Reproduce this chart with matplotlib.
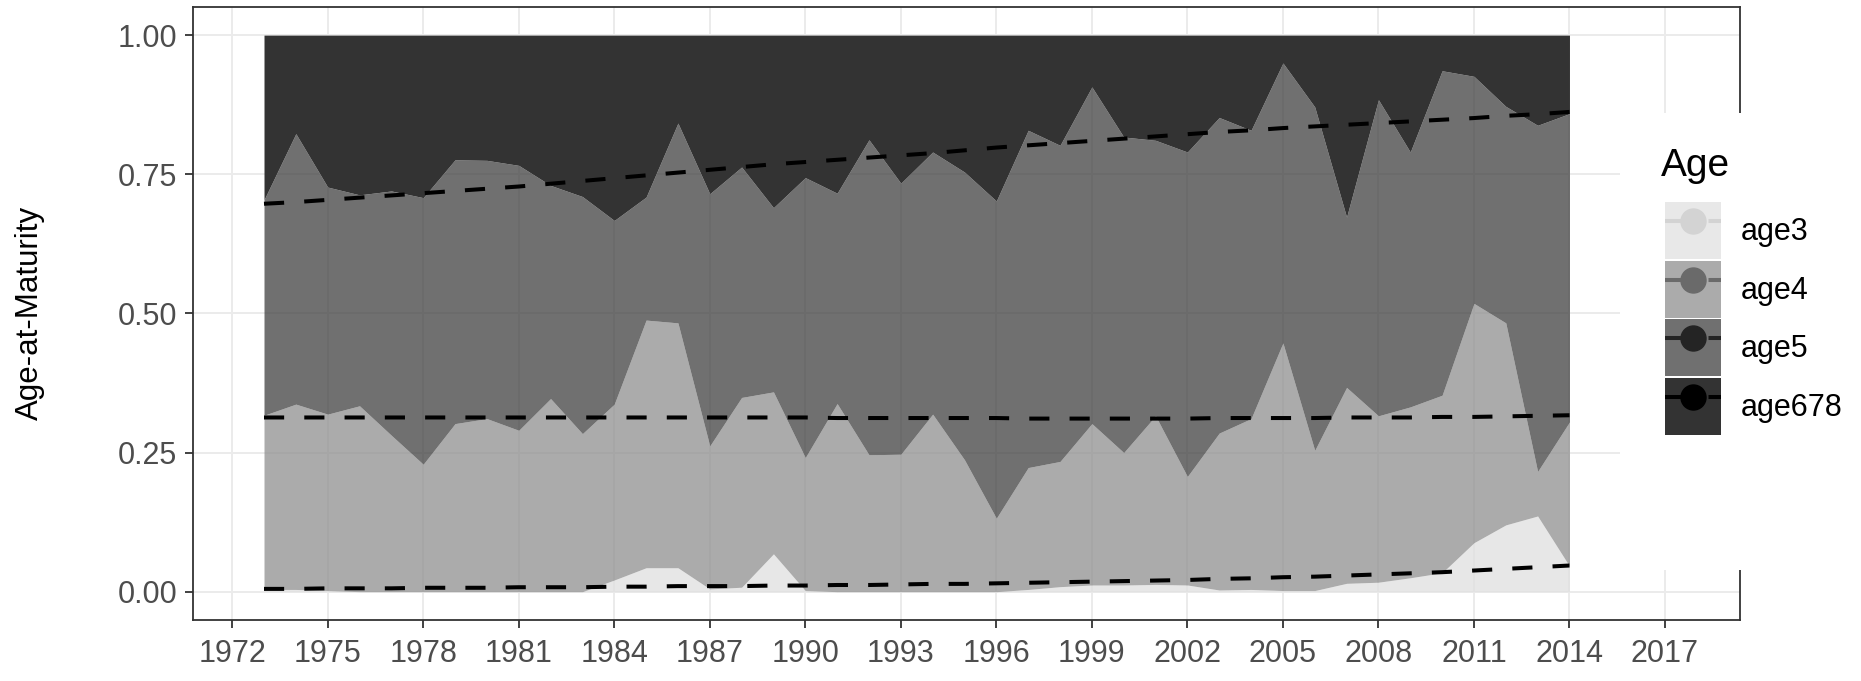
import matplotlib
matplotlib.use('Agg')
import matplotlib.pyplot as plt
import numpy as np
from matplotlib import font_manager
from matplotlib.patches import Patch, Rectangle
from matplotlib.lines import Line2D
from matplotlib.legend_handler import HandlerTuple

plt.rcParams['font.family'] = ['Liberation Sans', 'DejaVu Sans']

# share of spawners by age at maturity, 1973-2014
years = list(range(1973, 2015))
age3 = [0.004, 0.004, 0.002, 0.000, 0.000, 0.000, 0.000, 0.000, 0.000, 0.000,
        0.000, 0.021, 0.043, 0.043, 0.005, 0.008, 0.068, 0.002, 0.000, 0.000,
        0.000, 0.000, 0.000, 0.000, 0.004, 0.009, 0.012, 0.012, 0.013, 0.012,
        0.003, 0.004, 0.002, 0.002, 0.015, 0.017, 0.025, 0.034, 0.088, 0.120,
        0.136, 0.046]
age4 = [0.313, 0.333, 0.317, 0.334, 0.281, 0.229, 0.302, 0.311, 0.290, 0.347,
        0.284, 0.316, 0.445, 0.440, 0.257, 0.341, 0.291, 0.239, 0.338, 0.246,
        0.247, 0.319, 0.237, 0.132, 0.219, 0.225, 0.290, 0.238, 0.303, 0.195,
        0.282, 0.307, 0.445, 0.252, 0.352, 0.299, 0.307, 0.319, 0.430, 0.363,
        0.080, 0.259]
age5 = [0.387, 0.486, 0.408, 0.379, 0.439, 0.479, 0.474, 0.464, 0.476, 0.383,
        0.426, 0.330, 0.221, 0.359, 0.453, 0.414, 0.331, 0.503, 0.378, 0.566,
        0.487, 0.471, 0.517, 0.570, 0.606, 0.568, 0.605, 0.567, 0.495, 0.583,
        0.567, 0.518, 0.503, 0.617, 0.306, 0.568, 0.458, 0.583, 0.408, 0.389,
        0.622, 0.554]
age678 = [0.296, 0.177, 0.273, 0.287, 0.280, 0.292, 0.224, 0.225, 0.234, 0.270,
          0.290, 0.333, 0.291, 0.158, 0.285, 0.237, 0.310, 0.256, 0.284, 0.188,
          0.266, 0.210, 0.246, 0.298, 0.171, 0.198, 0.093, 0.183, 0.189, 0.210,
          0.148, 0.171, 0.050, 0.129, 0.327, 0.116, 0.210, 0.064, 0.074, 0.128,
          0.162, 0.141]

# fitted trends of the cumulative shares
trend_3 = [0.005, 0.005, 0.006, 0.006, 0.006, 0.007, 0.007, 0.007, 0.008, 0.008,
           0.008, 0.009, 0.009, 0.010, 0.010, 0.010, 0.011, 0.011, 0.012, 0.012,
           0.013, 0.014, 0.014, 0.015, 0.016, 0.017, 0.018, 0.019, 0.020, 0.021,
           0.023, 0.024, 0.026, 0.027, 0.029, 0.031, 0.033, 0.035, 0.038, 0.041,
           0.044, 0.047]
trend_34 = [0.313, 0.313, 0.313, 0.313, 0.313, 0.313, 0.313, 0.313, 0.313, 0.313,
            0.313, 0.313, 0.313, 0.313, 0.313, 0.313, 0.313, 0.313, 0.312, 0.312,
            0.312, 0.312, 0.312, 0.312, 0.311, 0.311, 0.311, 0.311, 0.311, 0.311,
            0.312, 0.312, 0.312, 0.312, 0.313, 0.313, 0.313, 0.314, 0.314, 0.315,
            0.316, 0.317]
trend_345 = [0.697, 0.700, 0.704, 0.708, 0.712, 0.716, 0.720, 0.724, 0.728, 0.733,
             0.738, 0.743, 0.748, 0.753, 0.758, 0.763, 0.768, 0.772, 0.776, 0.780,
             0.784, 0.788, 0.793, 0.798, 0.802, 0.806, 0.810, 0.814, 0.818, 0.822,
             0.826, 0.829, 0.833, 0.836, 0.839, 0.842, 0.845, 0.848, 0.851, 0.855,
             0.858, 0.862]

age_labels = ['age3', 'age4', 'age5', 'age678']
x_ticks = [1972, 1975, 1978, 1981, 1984, 1987, 1990, 1993, 1996, 1999, 2002,
           2005, 2008, 2011, 2014, 2017]
y_ticks = [0.00, 0.25, 0.50, 0.75, 1.00]
y_ticklabels = ['0.00', '0.25', '0.50', '0.75', '1.00']

# area colours (with their alpha) and the key point/line colours
area_colors = ['#e0e0e0', '#8f8f8f', '#404040', '#333333']
area_alpha = [0.75, 0.75, 0.75, 1.0]
key_fill = ['#e8e8e8', '#ababab', '#707070', '#333333']
key_mark = ['#d3d3d3', '#6a6a6a', '#242424', '#000000']

W, H = 1861, 681
fig = plt.figure(figsize=(W / 100, H / 100), dpi=100)
ax = fig.add_axes([193 / W, 1 - 619.5 / H, (1739.5 - 193) / W, 612.2 / H])

ax.set_axisbelow(True)
ax.grid(True, color='#ebebeb', lw=1.4)

bottom = np.zeros(len(years))
for vals, col, a in zip([age3, age4, age5, age678], area_colors, area_alpha):
    top = bottom + np.array(vals)
    ax.fill_between(years, bottom, top, color=col, alpha=a, lw=0, zorder=1)
    bottom = top

for tr in [trend_3, trend_34, trend_345]:
    ax.plot(years, tr, color='black', lw=2.9, dashes=(5, 5), zorder=3)

ax.set_xlim(1970.77, 2019.34)
ax.set_ylim(-0.05, 1.05)

names = {f.name for f in font_manager.fontManager.ttflist}
if 'Liberation Sans Narrow' in names:
    xfont, xsize = 'Liberation Sans Narrow', 26
else:
    xfont, xsize = 'Liberation Sans', 22

ax.set_xticks(x_ticks, labels=[str(t) for t in x_ticks], fontfamily=xfont, fontsize=xsize)
ax.set_yticks(y_ticks, labels=y_ticklabels, fontsize=22)
ax.tick_params(length=5.8, width=1.3, color='#333333', labelcolor='#4d4d4d', pad=5.5)
ax.tick_params(axis='x', pad=8.5)
for sp in ax.spines.values():
    sp.set_color('#333333')
    sp.set_linewidth(1.3)

fig.text(30 / W, 1 - 313 / H, 'Age-at-Maturity', rotation=90, ha='center',
         va='center', fontsize=22.5, color='black')

# legend sits on a white panel that covers part of the plot border
fig.add_artist(Rectangle((1620 / W, 1 - 570 / H), (W - 1620) / W, 457 / H,
                         transform=fig.transFigure, facecolor='white',
                         edgecolor='none', zorder=2))
fig.text(1661 / W, 1 - 176 / H, 'Age', fontsize=28, ha='left', va='baseline', zorder=6)

handles = []
for fc, mc in zip(key_fill, key_mark):
    handles.append((Patch(facecolor=fc, edgecolor='none'),
                    Line2D([], [], color=mc, lw=2.9, dashes=(9, 1.8), marker='o',
                           markersize=18, markerfacecolor=mc, markeredgecolor=mc)))
fig.legend(handles, age_labels, handler_map={tuple: HandlerTuple(ndivide=1)},
           loc='upper left', bbox_to_anchor=(1665 / W, 1 - 202 / H), frameon=False,
           fontsize=22, handlelength=1.83, handleheight=2.5, labelspacing=0.05,
           handletextpad=0.65, borderpad=0, borderaxespad=0, numpoints=1)

fig.savefig('out.png', dpi=100)
